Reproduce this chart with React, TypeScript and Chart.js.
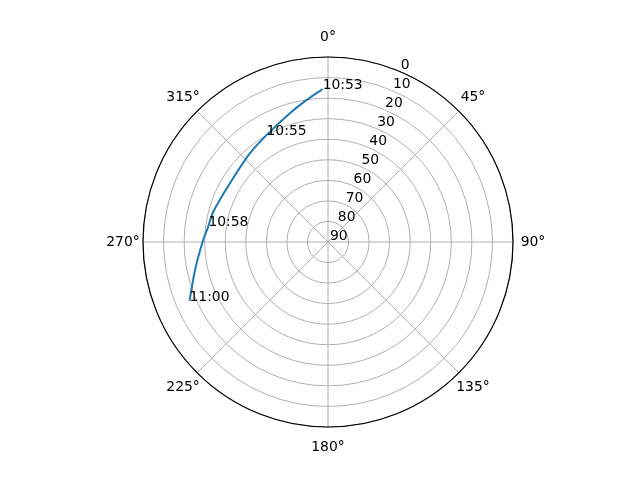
import React, { useEffect, useRef } from 'react';
import { Chart, registerables } from 'chart.js';

Chart.register(...registerables);

// compass directions round the plot, clockwise from north
const thetaLabels = ['0°', '45°', '90°', '135°', '180°', '225°', '270°', '315°'];
// elevation rings: 0 on the rim, 90 at the zenith
const elevationTicks = [0, 10, 20, 30, 40, 50, 60, 70, 80, 90];

// satellite pass (degrees)
const azimuth = [358.0, 351.5, 343.5, 330.1, 318.7, 300.9, 284.8, 277.6, 270.1, 258.1, 247.0];
const elevation = [15.5, 20.1, 24.7, 30.0, 32.5, 34.4, 32.3, 31.3, 29.0, 23.9, 16.8];
const timeLabels = ['10:53', '', '', '10:55', '', '', '', '10:58', '', '', '11:00'];

const FONT = '13.9px "DejaVu Sans"';

// az/el -> plane coordinates in elevation units (north up, east right)
const track = azimuth.map((az, i) => {
  const rad = (az * Math.PI) / 180;
  const dist = 90 - elevation[i];
  return { x: dist * Math.sin(rad), y: dist * Math.cos(rad) };
});

const skyLabels = {
  id: 'skyLabels',
  afterDatasetsDraw(chart: Chart) {
    const r: any = chart.scales.r;
    const ctx = chart.ctx;
    ctx.save();

    // outer spine
    ctx.strokeStyle = '#000000';
    ctx.lineWidth = 1.2;
    ctx.beginPath();
    ctx.arc(r.xCenter, r.yCenter, r.drawingArea, 0, Math.PI * 2);
    ctx.stroke();

    ctx.fillStyle = '#000000';
    ctx.font = FONT;

    ctx.textAlign = 'center';
    ctx.textBaseline = 'middle';
    thetaLabels.forEach((label, i) => {
      const p = r.getPointPosition(i, r.drawingArea + 20);
      ctx.fillText(label, p.x, p.y);
    });

    // ring labels sit along the 22.5° direction
    ctx.textAlign = 'left';
    ctx.textBaseline = 'alphabetic';
    elevationTicks.forEach((v) => {
      const p = r.getPointPosition(0.5, r.getDistanceFromCenterForValue(v));
      ctx.fillText(String(v), p.x + 2, p.y - 2);
    });

    const meta = chart.getDatasetMeta(0);
    timeLabels.forEach((t, i) => {
      if (!t) return;
      const pt = meta.data[i];
      ctx.fillText(t, pt.x, pt.y);
    });

    ctx.restore();
  },
};

export default function App() {
  const canvasRef = useRef<HTMLCanvasElement>(null);
  const chartInstance = useRef<Chart | null>(null);

  useEffect(() => {
    if (!canvasRef.current) return;
    const ctx = canvasRef.current.getContext('2d');
    if (!ctx) return;

    chartInstance.current = new Chart(ctx, {
      type: 'scatter',
      data: {
        labels: thetaLabels,
        datasets: [
          {
            data: track,
            showLine: true,
            borderColor: '#1f77b4',
            borderWidth: 2,
            pointRadius: 0,
            tension: 0.3,
          },
        ],
      },
      options: {
        animation: false,
        responsive: true,
        maintainAspectRatio: false,
        events: [],
        layout: { padding: { left: 143, right: 127, top: 57, bottom: 53 } },
        scales: {
          x: { type: 'linear', display: false, min: -90, max: 90 },
          y: { type: 'linear', display: false, min: -90, max: 90 },
          r: {
            type: 'radialLinear',
            min: 0,
            max: 90,
            reverse: true,
            startAngle: 0,
            ticks: { display: false, stepSize: 10 },
            pointLabels: { display: false },
            grid: { circular: true, color: '#b0b0b0', lineWidth: 1 },
            angleLines: { display: true, color: '#b0b0b0', lineWidth: 1 },
          },
        },
        plugins: {
          legend: { display: false },
          tooltip: { enabled: false },
        },
      },
      plugins: [skyLabels],
    });

    return () => {
      chartInstance.current?.destroy();
    };
  }, []);

  return (
    <div style={{ position: 'absolute', left: 0, top: 0, width: '640px', height: '480px', background: '#ffffff' }}>
      <canvas ref={canvasRef} />
    </div>
  );
}
